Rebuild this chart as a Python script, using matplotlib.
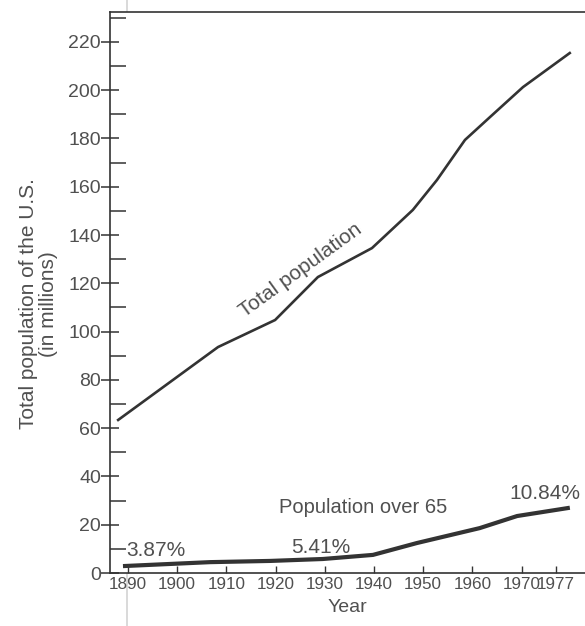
import matplotlib
matplotlib.use("Agg")
import matplotlib.pyplot as plt
from matplotlib.lines import Line2D

# Total U.S. population (millions)
total_years = [1888, 1908.3, 1919.9, 1928.6, 1939.6, 1947.9, 1952.8, 1958.5, 1963.6, 1970.3, 1979.8]
total_pop = [63.4, 93.6, 104.8, 122.6, 134.6, 150.4, 162.8, 179.4, 188.9, 201.3, 215.4]

# Population over 65 (millions)
elder_years = [1889.4, 1906.7, 1918.9, 1929.6, 1939.8, 1948.7, 1961.5, 1969.1, 1979.4]
elder_pop = [2.9, 4.5, 5.0, 5.8, 7.5, 12.4, 18.6, 23.6, 26.9]

x_ticks = [1890, 1900, 1910, 1920, 1930, 1940, 1950, 1960, 1970, 1977]
y_ticks = list(range(0, 221, 20))
y_minor = list(range(10, 231, 20))

share_labels = ["3.87%", "5.41%", "10.84%"]

INK = "#333333"
TXT = "#505050"
plt.rcParams["font.family"] = ["Liberation Sans", "DejaVu Sans"]

fig = plt.figure(figsize=(5.85, 6.26), dpi=100)
ax = fig.add_axes([110 / 585, 53 / 626, 475 / 585, 561 / 626])

ax.plot(total_years, total_pop, color=INK, lw=1.9, solid_joinstyle="round")
ax.plot(elder_years, elder_pop, color=INK, lw=3.0, solid_joinstyle="round")

ax.set_xlim(1886.34, 1982.9)
ax.set_ylim(0, 232.4)

ax.set_xticks(x_ticks)
ax.set_xticklabels([str(t) for t in x_ticks])
ax.set_yticks(y_ticks)
ax.set_yticks(y_minor, minor=True)

ax.tick_params(axis="y", which="major", direction="inout", length=13, width=1.1,
               color=INK, labelsize=14, labelcolor=TXT, pad=0)
ax.tick_params(axis="y", which="minor", direction="in", length=11.5, width=1.1, color=INK)
ax.tick_params(axis="x", which="major", direction="in", length=5, width=1.0,
               color=INK, labelsize=12.3, labelcolor=TXT, pad=3)

for side in ("left", "bottom", "top"):
    ax.spines[side].set_color(INK)
    ax.spines[side].set_linewidth(1.2)
ax.spines["right"].set_visible(False)

ax.set_xlabel("Year", fontsize=14, color=TXT, labelpad=5)
ax.set_ylabel("Total population of the U.S.\n(in millions)", fontsize=15,
              color=TXT, linespacing=1.05)
ax.yaxis.set_label_coords(-0.11, 0.48)

ax.text(1925, 125.5, "Total population", rotation=36, rotation_mode="anchor",
        ha="center", va="center", fontsize=15, color=TXT)
ax.text(1937.8, 27.3, "Population over 65", ha="center", va="center",
        fontsize=14.5, color=TXT)
ax.text(1889.6, 9.3, share_labels[0], ha="left", va="center", fontsize=15, color=TXT)
ax.text(1929.2, 10.6, share_labels[1], ha="center", va="center", fontsize=15, color=TXT)
ax.text(1974.8, 33.0, share_labels[2], ha="center", va="center", fontsize=15, color=TXT)

# faint crease running down the page
fig.add_artist(Line2D([127 / 585, 127 / 585], [0, 1], transform=fig.transFigure,
                      color="#d9d9d9", lw=1.4, zorder=0))

fig.savefig("out.png", dpi=100)
